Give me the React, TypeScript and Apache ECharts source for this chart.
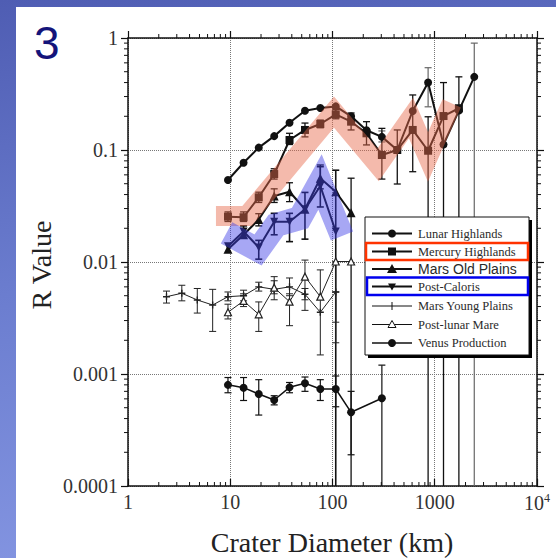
import React, { useEffect, useRef } from "react";
import * as echarts from "echarts";

// ---------- tick labels ----------
const X_TICK_LABELS = ["1", "10", "100", "1000", "10{s|4}"];
const Y_TICK_LABELS = ["0.0001", "0.001", "0.01", "0.1", "1"];
const X_MIN = 1;
const X_MAX = 10000;
const Y_MIN = 0.0001;
const Y_MAX = 1;

const SERIES_NAMES = [
  "Lunar Highlands",
  "Mercury Highlands",
  "Mars Old Plains",
  "Post-Caloris",
  "Mars Young Plains",
  "Post-lunar Mare",
  "Venus Production",
];

// ---------- series values (crater diameter km, R value) ----------
const lunarX = [9.5, 13.5, 19, 26.9, 38, 53.8, 76, 107.6, 152, 215, 304, 430, 609, 861, 1218, 1722, 2435];
const lunarY = [0.054, 0.077, 0.105, 0.133, 0.175, 0.224, 0.237, 0.245, 0.2, 0.15, 0.131, 0.1, 0.223, 0.4, 0.112, 0.225, 0.45];

const mercuryX = [9.5, 13.5, 19, 26.9, 38, 53.8, 76, 107.6, 152, 215, 304, 430, 609, 861, 1218, 1722];
const mercuryY = [0.0254, 0.0251, 0.0378, 0.061, 0.1228, 0.151, 0.1707, 0.208, 0.179, 0.141, 0.0902, 0.1, 0.151, 0.0985, 0.201, 0.236];

const marsOldX = [9.5, 13.5, 19, 26.9, 38, 53.8, 76, 107.6, 152];
const marsOldY = [0.013, 0.0175, 0.024, 0.0388, 0.0424, 0.0296, 0.0559, 0.0424, 0.0275];

const postCalorisX = [9.5, 13.5, 19, 26.9, 38, 53.8, 76, 107.6];
const postCalorisY = [0.0138, 0.0187, 0.0135, 0.0229, 0.0229, 0.0296, 0.0477, 0.0187];

const marsYoungX = [2.38, 3.36, 4.76, 6.73, 9.5, 13.5, 19, 26.9, 38, 53.8, 76, 107.6];
const marsYoungY = [0.0049, 0.00526, 0.00458, 0.00413, 0.0049, 0.005, 0.006, 0.0057, 0.006, 0.00515, 0.00356, 0.0054];

const postMareX = [9.5, 13.5, 19, 26.9, 38, 53.8, 76, 107.6, 152];
const postMareY = [0.00356, 0.00449, 0.00341, 0.0059, 0.00442, 0.0074, 0.0049, 0.0101, 0.0101];

const venusX = [9.5, 13.5, 19, 26.9, 38, 53.8, 76, 107.6, 152, 304];
const venusY = [0.0008, 0.000755, 0.000663, 0.000586, 0.00076, 0.000826, 0.000735, 0.000735, 0.000455, 0.000607];

// ---------- error bars [diameter, low, high] ----------
const lunarErr = [
  [304, 0.118, 0.148],
  [861, 0.243, 0.543],
  [2435, 0.0001, 0.9],
];
const mercuryErr = [
  [9.5, 0.023, 0.028], [13.5, 0.023, 0.028], [19, 0.034, 0.042], [26.9, 0.055, 0.068],
  [38, 0.112, 0.141], [53.8, 0.131, 0.174], [76, 0.158, 0.185], [107.6, 0.19, 0.23],
  [152, 0.151, 0.214], [215, 0.111, 0.179], [304, 0.055, 0.156], [430, 0.0497, 0.151],
  [609, 0.064, 0.31], [861, 0.0001, 0.198], [1218, 0.0001, 0.4], [1722, 0.0001, 0.45],
];
const marsOldErr = [
  [19, 0.021, 0.027], [26.9, 0.034, 0.045], [38, 0.0346, 0.051], [76, 0.045, 0.0735], [152, 0.0001, 0.056],
];
const postCalorisErr = [
  [13.5, 0.0165, 0.021], [19, 0.0106, 0.0156], [26.9, 0.0175, 0.0272], [38, 0.0152, 0.0272],
  [53.8, 0.016, 0.0418], [76, 0.031, 0.071], [107.6, 0.0001, 0.066],
];
const marsYoungErr = [
  [2.38, 0.0043, 0.0055], [3.36, 0.0045, 0.0062], [4.76, 0.0035, 0.0058], [6.73, 0.0024, 0.0057],
  [9.5, 0.0045, 0.0054], [13.5, 0.0045, 0.0056], [19, 0.0055, 0.0066], [26.9, 0.0046, 0.0074],
  [38, 0.005, 0.0072], [53.8, 0.0046, 0.0058], [76, 0.00148, 0.0085], [107.6, 0.0019, 0.0054],
];
const postMareErr = [
  [9.5, 0.0031, 0.0042], [13.5, 0.004, 0.0052], [19, 0.0024, 0.0044], [26.9, 0.0052, 0.0068],
  [38, 0.0027, 0.0052], [53.8, 0.0037, 0.0104], [107.6, 0.0029, 0.0101],
];
const venusErr = [
  [9.5, 0.00068, 0.00093], [13.5, 0.00058, 0.00093], [19, 0.00043, 0.00089], [26.9, 0.00053, 0.00064],
  [38, 0.00068, 0.00084], [53.8, 0.0007, 0.00094], [76, 0.00058, 0.00089], [107.6, 0.00051, 0.00096],
  [152, 0.00019, 0.0007], [304, 0.0001, 0.0012],
];

// ---------- highlight bands ----------
const salmonBandX = [7.25, 14.6, 103.4, 279, 586, 859, 1466];
const salmonBandY = [0.0258, 0.0258, 0.218, 0.0736, 0.193, 0.0866, 0.261];
const blueBandX = [9.2, 18.7, 28, 48.1, 75.5, 123.8];
const blueBandY = [0.0182, 0.0128, 0.0214, 0.0247, 0.0518, 0.0171];

const zip = (xs: number[], ys: number[]) => xs.map((x, i) => [x, ys[i]]);

const SERIF = "'Liberation Serif', 'Times New Roman', serif";
const SANS = "'Liberation Sans', Arial, sans-serif";
const PLUS = "path://M4,0H6V10H4Z M0,4H10V6H0Z";

function errSeries(data: number[][], color: string, width: number) {
  return {
    type: "custom",
    coordinateSystem: "cartesian2d",
    data,
    encode: { x: 0, y: [1, 2] },
    silent: true,
    z: 2,
    renderItem: (_p: any, api: any) => {
      const x = api.value(0);
      const lo = api.value(1);
      const hi = api.value(2);
      const top = api.coord([x, hi]);
      const bot = api.coord([x, Math.max(lo, Y_MIN)]);
      const st = { stroke: color, lineWidth: width };
      const c = 3.5;
      const children: any[] = [
        { type: "line", shape: { x1: top[0], y1: top[1], x2: bot[0], y2: bot[1] }, style: st },
        { type: "line", shape: { x1: top[0] - c, y1: top[1], x2: top[0] + c, y2: top[1] }, style: st },
      ];
      if (lo > Y_MIN) {
        children.push({ type: "line", shape: { x1: bot[0] - c, y1: bot[1], x2: bot[0] + c, y2: bot[1] }, style: st });
      }
      return { type: "group", children };
    },
  };
}

function minorTicks() {
  return {
    type: "custom",
    coordinateSystem: "cartesian2d",
    data: [[1, 1]],
    encode: { x: 0, y: 1 },
    silent: true,
    z: 6,
    renderItem: (_p: any, api: any) => {
      const children: any[] = [];
      const [xl, yt] = api.coord([X_MIN, Y_MAX]);
      const [xr, yb] = api.coord([X_MAX, Y_MIN]);
      const st = { stroke: "#111", lineWidth: 1 };
      for (let e = 0; e < 4; e++) {
        for (let m = 2; m <= 9; m++) {
          const px = api.coord([m * Math.pow(10, e), 1])[0];
          children.push({ type: "line", shape: { x1: px, y1: yb, x2: px, y2: yb - 4 }, style: st });
          children.push({ type: "line", shape: { x1: px, y1: yt, x2: px, y2: yt - 4 }, style: st });
        }
      }
      for (let e = -4; e < 0; e++) {
        for (let m = 2; m <= 9; m++) {
          const py = api.coord([1, m * Math.pow(10, e)])[1];
          children.push({ type: "line", shape: { x1: xl, y1: py, x2: xl - 4, y2: py }, style: st });
          children.push({ type: "line", shape: { x1: xr, y1: py, x2: xr + 4, y2: py }, style: st });
        }
      }
      return { type: "group", children };
    },
  };
}

function legendGraphics() {
  const els: any[] = [];
  const L = 365, T = 217, W = 164, H = 138;
  els.push({ type: "rect", z: 100, shape: { x: L + 3, y: T + 3, width: W, height: H }, style: { fill: "#000" } });
  els.push({ type: "rect", z: 101, shape: { x: L, y: T, width: W, height: H }, style: { fill: "#fff", stroke: "#111", lineWidth: 1 } });
  const rowY = [233.5, 251.5, 269, 286.5, 306, 324.5, 343];
  const x1 = 372, x2 = 412, xm = 392, tx = 418;
  SERIES_NAMES.forEach((name, i) => {
    const y = rowY[i];
    const thick = i < 4 ? 2 : i === 6 ? 1.5 : 1;
    els.push({ type: "line", z: 102, shape: { x1, y1: y, x2, y2: y }, style: { stroke: "#111", lineWidth: thick } });
    if (i === 0 || i === 6) els.push({ type: "circle", z: 103, shape: { cx: xm, cy: y, r: 4 }, style: { fill: "#111" } });
    if (i === 1) els.push({ type: "rect", z: 103, shape: { x: xm - 4, y: y - 4, width: 8, height: 8 }, style: { fill: "#111" } });
    if (i === 2) els.push({ type: "polygon", z: 103, shape: { points: [[xm, y - 5], [xm - 5, y + 4], [xm + 5, y + 4]] }, style: { fill: "#111" } });
    if (i === 3) els.push({ type: "polygon", z: 103, shape: { points: [[xm - 4, y - 3], [xm + 4, y - 3], [xm, y + 4]] }, style: { fill: "#111" } });
    if (i === 4) els.push({ type: "line", z: 103, shape: { x1: xm, y1: y - 4, x2: xm, y2: y + 4 }, style: { stroke: "#111", lineWidth: 1 } });
    if (i === 5) els.push({ type: "polygon", z: 103, shape: { points: [[xm, y - 4], [xm - 4, y + 3], [xm + 4, y + 3]] }, style: { fill: "#fff", stroke: "#111", lineWidth: 1 } });
    els.push({
      type: "text",
      z: 104,
      style: {
        text: name,
        x: tx,
        y,
        fill: "#2a2a2a",
        fontSize: i === 2 ? 14 : 12.5,
        fontFamily: i === 2 ? SANS : SERIF,
        align: "left",
        verticalAlign: "middle",
        textAlign: "left",
        textVerticalAlign: "middle",
      },
    });
  });
  els.push({ type: "rect", z: 105, shape: { x: 366, y: 243, width: 162, height: 17 }, style: { fill: "none", stroke: "#ff3300", lineWidth: 2.5 } });
  els.push({ type: "rect", z: 105, shape: { x: 367, y: 277.5, width: 161, height: 17.5 }, style: { fill: "none", stroke: "#0000ee", lineWidth: 2.5 } });
  return els;
}

function buildOption(): any {
  const yLabel = (v: number) => Y_TICK_LABELS[Math.round(Math.log10(v)) + 4];
  const xLabel = (v: number) => X_TICK_LABELS[Math.round(Math.log10(v))];
  const axisLineStyle = { color: "#111", width: 1.5 };
  return {
    animation: false,
    backgroundColor: "transparent",
    grid: { left: 128, right: 19, top: 38, bottom: 72, containLabel: false },
    xAxis: [
      {
        type: "log", logBase: 10, min: X_MIN, max: X_MAX, position: "bottom",
        axisLine: { show: true, onZero: false, lineStyle: axisLineStyle },
        axisTick: { show: true, inside: true, length: 7, lineStyle: { color: "#111", width: 1.2 } },
        axisLabel: {
          formatter: xLabel, fontFamily: SERIF, fontSize: 20, color: "#333", margin: 6,
          rich: { s: { fontFamily: SERIF, fontSize: 12, color: "#333", verticalAlign: "top", padding: [0, 0, 10, 0] } },
        },
        splitLine: { show: true, lineStyle: { color: "#777", type: "dotted", width: 1 } },
      },
      {
        type: "log", logBase: 10, min: X_MIN, max: X_MAX, position: "top",
        axisLine: { show: true, onZero: false, lineStyle: axisLineStyle },
        axisTick: { show: true, inside: false, length: 7, lineStyle: { color: "#111", width: 1.2 } },
        axisLabel: { show: false },
        splitLine: { show: false },
      },
    ],
    yAxis: [
      {
        type: "log", logBase: 10, min: Y_MIN, max: Y_MAX, position: "left",
        axisLine: { show: true, onZero: false, lineStyle: axisLineStyle },
        axisTick: { show: true, inside: false, length: 7, lineStyle: { color: "#111", width: 1.2 } },
        axisLabel: { formatter: yLabel, fontFamily: SERIF, fontSize: 20, color: "#333", margin: 10 },
        splitLine: { show: true, lineStyle: { color: "#777", type: "dotted", width: 1 } },
      },
      {
        type: "log", logBase: 10, min: Y_MIN, max: Y_MAX, position: "right",
        axisLine: { show: true, onZero: false, lineStyle: axisLineStyle },
        axisTick: { show: true, inside: false, length: 7, lineStyle: { color: "#111", width: 1.2 } },
        axisLabel: { show: false },
        splitLine: { show: false },
      },
    ],
    series: [
      errSeries(lunarErr, "#666", 1.2),
      errSeries(mercuryErr, "#111", 1.3),
      errSeries(marsOldErr, "#111", 1.3),
      errSeries(postCalorisErr, "#111", 1.6),
      errSeries(marsYoungErr, "#222", 1),
      errSeries(postMareErr, "#222", 1),
      errSeries(venusErr, "#111", 1.2),
      {
        type: "line", name: SERIES_NAMES[4], data: zip(marsYoungX, marsYoungY), z: 3,
        symbol: PLUS, symbolSize: 7, itemStyle: { color: "#222" }, lineStyle: { color: "#222", width: 1 },
      },
      {
        type: "line", name: SERIES_NAMES[5], data: zip(postMareX, postMareY), z: 3,
        symbol: "triangle", symbolSize: 7, itemStyle: { color: "#fff", borderColor: "#222", borderWidth: 1.2 },
        lineStyle: { color: "#222", width: 1 },
      },
      {
        type: "line", name: SERIES_NAMES[6], data: zip(venusX, venusY), z: 3,
        symbol: "circle", symbolSize: 8, itemStyle: { color: "#111" }, lineStyle: { color: "#111", width: 1.5 },
      },
      {
        type: "line", name: SERIES_NAMES[2], data: zip(marsOldX, marsOldY), z: 3,
        symbol: "triangle", symbolSize: 9, itemStyle: { color: "#111" }, lineStyle: { color: "#111", width: 2 },
      },
      {
        type: "line", name: SERIES_NAMES[3], data: zip(postCalorisX, postCalorisY), z: 3,
        symbol: "triangle", symbolRotate: 180, symbolSize: 8, itemStyle: { color: "#111" }, lineStyle: { color: "#111", width: 2 },
      },
      {
        type: "line", name: SERIES_NAMES[0], data: zip(lunarX, lunarY), z: 3,
        symbol: "circle", symbolSize: 8, itemStyle: { color: "#111" }, lineStyle: { color: "#111", width: 2 },
      },
      {
        type: "line", name: SERIES_NAMES[1], data: zip(mercuryX, mercuryY), z: 3,
        symbol: "rect", symbolSize: 8, itemStyle: { color: "#111" }, lineStyle: { color: "#111", width: 2 },
      },
      {
        type: "line", name: "band-salmon", data: zip(salmonBandX, salmonBandY), z: 5, silent: true,
        symbol: "none", lineStyle: { color: "rgba(232,105,75,0.46)", width: 20, join: "miter", cap: "butt", miterLimit: 10 },
      },
      {
        type: "line", name: "band-blue", data: zip(blueBandX, blueBandY), z: 5, silent: true,
        symbol: "none", lineStyle: { color: "rgba(60,60,230,0.45)", width: 24, join: "miter", cap: "butt", miterLimit: 10 },
      },
      minorTicks(),
    ],
    graphic: {
      elements: [
        {
          type: "text", z: 50, x: 34, y: 43,
          style: { text: "3", x: 0, y: 0, fill: "#14147a", fontSize: 46, fontFamily: SANS, align: "left", verticalAlign: "middle", textAlign: "left", textVerticalAlign: "middle" },
        },
        {
          type: "text", z: 50, x: 41, y: 265, rotation: Math.PI / 2,
          style: { text: "R Value", x: 0, y: 0, fill: "#222", fontSize: 28, fontFamily: SERIF, align: "center", verticalAlign: "middle", textAlign: "center", textVerticalAlign: "middle" },
        },
        {
          type: "text", z: 50, x: 332, y: 542,
          style: { text: "Crater Diameter (km)", x: 0, y: 0, fill: "#222", fontSize: 28, fontFamily: SERIF, align: "center", verticalAlign: "middle", textAlign: "center", textVerticalAlign: "middle" },
        },
        ...legendGraphics(),
      ],
    },
  };
}

export default function App() {
  const ref = useRef<HTMLDivElement>(null);
  useEffect(() => {
    if (!ref.current) return;
    const chart = echarts.init(ref.current, null, { renderer: "svg" });
    chart.setOption(buildOption());
    return () => chart.dispose();
  }, []);
  return (
    <div
      style={{
        position: "fixed", left: 0, top: 0, width: 556, height: 558, overflow: "hidden",
        background: "linear-gradient(170deg, #4f5db3 0%, #6b7dcf 45%, #8a9be6 100%)",
      }}
    >
      <div style={{ position: "absolute", left: 16, top: 7, width: 540, height: 551, background: "#fff" }} />
      <div ref={ref} style={{ position: "absolute", left: 0, top: 0, width: 556, height: 558 }} />
    </div>
  );
}
